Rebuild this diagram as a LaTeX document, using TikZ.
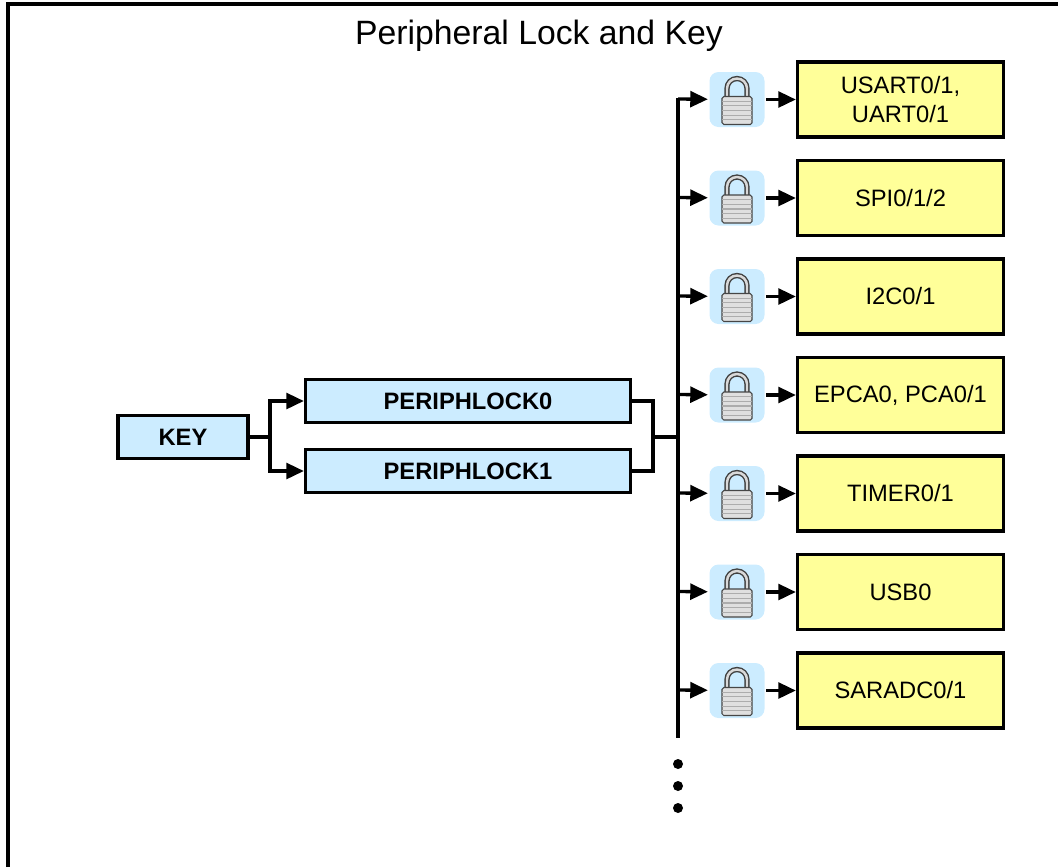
\documentclass[tikz,border=0pt]{standalone}
\usepackage{fontspec}
\setmainfont{Liberation Sans}
\usetikzlibrary{arrows.meta}
\definecolor{lockblue}{HTML}{CCECFF}
\definecolor{periyellow}{HTML}{FFFF99}
\begin{document}
\begin{tikzpicture}[x=0.02cm,y=-0.02cm,line width=1.9pt,
    font=\fontsize{13.5}{16}\selectfont,
    regbox/.style={draw,fill=lockblue,inner sep=0pt,minimum height=0.85cm,font=\fontsize{13.5}{16}\selectfont\bfseries},
    perbox/.style={draw,fill=periyellow,inner sep=0pt,minimum width=4.12cm,minimum height=1.5cm,align=center},
    lockbg/.style={fill=lockblue,rounded corners=0.18cm,minimum width=1.1cm,minimum height=1.1cm,inner sep=0pt},
    arr/.style={-{Triangle[length=10pt,width=9pt]}}]
  \useasboundingbox (0,0) rectangle (1058,867);
  \draw (8,867) -- (8,4) -- (1058,4);
  \node (title) at (539,36) {\fontsize{19.2}{22}\selectfont Peripheral Lock and Key};
  % key and lock registers
  \node[regbox,minimum width=2.6cm] (key) at (183,437) {KEY};
  \node[regbox,minimum width=6.5cm] (pl0) at (468,401) {PERIPHLOCK0};
  \node[regbox,minimum width=6.5cm] (pl1) at (468,471) {PERIPHLOCK1};
  \coordinate (split) at (270,437);
  \coordinate (join) at (653,437);
  \draw (key) -- (split);
  \draw[arr] (split) |- (pl0);
  \draw[arr] (split) |- (pl1);
  \draw (pl0.east) -| (join) |- (pl1.east);
  % bus to peripherals
  \coordinate (bustop) at (678,97.5);
  \coordinate (busend) at (678,738);
  \draw (bustop) -- (busend);
  \draw (join) -- (join -| bustop);
  \foreach \lbl [count=\i] in {{USART0/1,\\UART0/1},{SPI0/1/2},{I2C0/1},{EPCA0, PCA0/1},{TIMER0/1},{USB0},{SARADC0/1}} {
    \coordinate (b\i) at (678,{99+(\i-1)*98.5});
    \node[lockbg] (lk\i) at (737,{99.5+(\i-1)*98.5}) {};
    \node[perbox] (per\i) at (900.5,{99.5+(\i-1)*98.5}) {\lbl};
    \draw[arr] (b\i) -- (lk\i);
    \draw[arr] (lk\i) -- (per\i);
    \begin{scope}[shift={(lk\i.center)}]
      \draw[line width=3pt,gray!50!black] (-10,-3) -- (-10,-11) arc (180:360:10) -- (10,-3);
      \draw[line width=1.4pt,gray!30] (-10,-3) -- (-10,-11) arc (180:360:10) -- (10,-3);
      \draw[fill=gray!25,draw=gray!55!black,line width=0.6pt,rounded corners=1pt] (-15,-3) rectangle (15,25);
      \foreach \s in {1,...,5}
        \draw[gray!65,line width=0.7pt] (-15,-3+\s*4.67) -- (15,-3+\s*4.67);
    \end{scope}
  }
  \foreach \d in {764,786,808}
    \fill (678,\d) circle (5);
\end{tikzpicture}
\end{document}
